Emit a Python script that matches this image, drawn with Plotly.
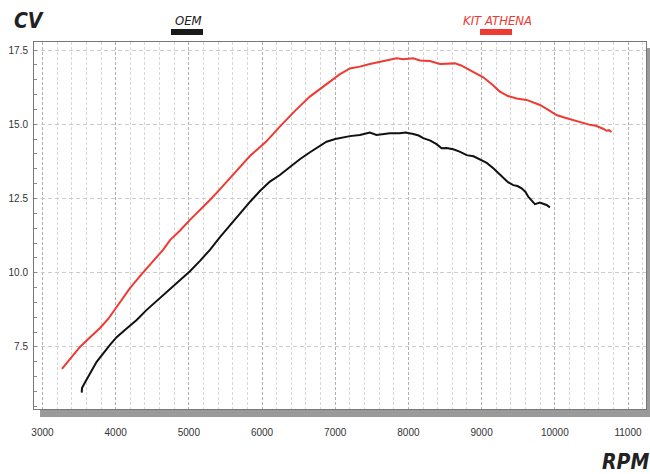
import plotly.graph_objects as go

# OEM (black)
oem_rpm = [3536, 3540, 3580, 3626, 3740, 3922, 4013, 4150, 4287, 4420, 4560, 4700, 4833, 5015, 5152, 5288,
           5425, 5560, 5698, 5840, 5971, 6107, 6243, 6380, 6516, 6650, 6770, 6881, 7000, 7100, 7200, 7336,
           7473, 7564, 7650, 7746, 7883, 7960, 8066, 8140, 8202, 8300, 8384, 8453, 8520, 8612, 8700, 8795,
           8890, 8977, 9070, 9160, 9230, 9296, 9360, 9432, 9490, 9546, 9600, 9637, 9690, 9728, 9796, 9850,
           9887, 9933]
oem_cv = [5.96, 6.12, 6.30, 6.50, 7.00, 7.57, 7.83, 8.12, 8.41, 8.74, 9.05, 9.36, 9.65, 10.05, 10.40, 10.77,
          11.20, 11.60, 12.00, 12.40, 12.75, 13.07, 13.29, 13.57, 13.82, 14.05, 14.25, 14.41, 14.50, 14.56, 14.60, 14.64,
          14.72, 14.64, 14.68, 14.70, 14.70, 14.72, 14.67, 14.62, 14.53, 14.45, 14.33, 14.19, 14.20, 14.16, 14.08, 13.96,
          13.92, 13.82, 13.70, 13.52, 13.35, 13.18, 13.05, 12.95, 12.92, 12.84, 12.72, 12.56, 12.40, 12.31, 12.36, 12.30,
          12.28, 12.20]

# KIT ATHENA (red)
kit_rpm = [3266, 3400, 3512, 3640, 3786, 3900, 4000, 4195, 4373, 4470, 4647, 4743, 4880, 5015, 5150, 5288,
           5420, 5561, 5700, 5834, 5926, 6050, 6243, 6450, 6653, 6800, 6926, 7060, 7200, 7336, 7473, 7610,
           7701, 7838, 7929, 8066, 8157, 8294, 8431, 8568, 8636, 8720, 8795, 8900, 9022, 9140, 9249, 9360,
           9478, 9615, 9700, 9796, 9900, 10024, 10140, 10251, 10370, 10480, 10560, 10616, 10660, 10707, 10740, 10776]
kit_cv = [6.76, 7.16, 7.50, 7.80, 8.14, 8.45, 8.80, 9.48, 10.00, 10.26, 10.77, 11.10, 11.42, 11.78, 12.10, 12.45,
          12.80, 13.18, 13.55, 13.93, 14.13, 14.40, 14.92, 15.45, 15.93, 16.20, 16.43, 16.68, 16.88, 16.94, 17.03, 17.11,
          17.16, 17.22, 17.19, 17.22, 17.15, 17.13, 17.03, 17.05, 17.05, 16.98, 16.88, 16.75, 16.58, 16.35, 16.10, 15.95,
          15.87, 15.82, 15.75, 15.65, 15.50, 15.31, 15.22, 15.14, 15.05, 14.98, 14.95, 14.90, 14.85, 14.78, 14.80, 14.74]

x_ticks = [3000, 4000, 5000, 6000, 7000, 8000, 9000, 10000, 11000]
y_ticks = [7.5, 10.0, 12.5, 15.0, 17.5]

W, H = 650, 474
L, R, T, B = 34, 4, 42, 65
pw, ph = W - L - R, H - T - B


def px(xp):
    return (xp - L) / pw


def py(yp):
    return (H - B - yp) / ph


fig = go.Figure()
fig.add_trace(go.Scatter(x=oem_rpm, y=oem_cv, mode="lines", name="OEM",
                         line=dict(color="#111111", width=2), showlegend=False))
fig.add_trace(go.Scatter(x=kit_rpm, y=kit_cv, mode="lines", name="KIT ATHENA",
                         line=dict(color="#ee3a33", width=2), showlegend=False))

axis_font = dict(family="Liberation Sans, Arial, sans-serif", size=10, color="#333333")
label_family = "DejaVu Sans Condensed, DejaVu Sans"

fig.update_layout(
    width=W, height=H,
    margin=dict(l=L, r=R, t=T, b=B, autoexpand=False),
    paper_bgcolor="white", plot_bgcolor="white",
    xaxis=dict(range=[2884, 11246], tickvals=x_ticks, ticktext=[str(v) for v in x_ticks],
               automargin=False,
               showgrid=True, gridcolor="#b0b0b0", griddash="3px,2px", gridwidth=1,
               minor=dict(dtick=200, tick0=3000, showgrid=True, gridcolor="#d8d8d8", griddash="3px,2px", gridwidth=1),
               showline=True, linecolor="#777777", linewidth=1, mirror=True,
               ticks="", zeroline=False, tickfont=axis_font, ticklabelstandoff=14),
    yaxis=dict(range=[5.41, 17.77], tickvals=y_ticks, ticktext=["%.1f" % v for v in y_ticks],
               automargin=False,
               showgrid=True, gridcolor="#cccccc", griddash="4px,3px", gridwidth=1,
               minor=dict(dtick=0.5, tick0=5.5, ticks="inside", ticklen=3, tickcolor="#888888", showgrid=False),
               showline=True, linecolor="#777777", linewidth=1, mirror=True,
               ticks="", zeroline=False, tickfont=axis_font, ticklabelstandoff=3),
    shapes=[
        # drop shadow of the plot frame
        dict(type="rect", xref="paper", yref="paper", x0=px(646.5), x1=px(652), y0=py(417), y1=py(48),
             fillcolor="#9a9a9a", line=dict(width=0), layer="below"),
        dict(type="rect", xref="paper", yref="paper", x0=px(40), x1=px(652), y0=py(417), y1=py(409.5),
             fillcolor="#9a9a9a", line=dict(width=0), layer="below"),
        # legend bars
        dict(type="rect", xref="paper", yref="paper", x0=px(171), x1=px(203), y0=py(35), y1=py(29),
             fillcolor="#1a1a1a", line=dict(width=0)),
        dict(type="rect", xref="paper", yref="paper", x0=px(480), x1=px(512), y0=py(35), y1=py(29),
             fillcolor="#ee3a33", line=dict(width=0)),
    ],
    annotations=[
        dict(text="<b><i>CV</i></b>", xref="paper", yref="paper", x=px(12), y=py(21),
             xanchor="left", yanchor="middle", showarrow=False,
             font=dict(family=label_family, size=21, color="#222222")),
        dict(text="<b><i>RPM</i></b>", xref="paper", yref="paper", x=px(651), y=py(462),
             xanchor="right", yanchor="middle", showarrow=False,
             font=dict(family=label_family, size=21, color="#222222")),
        dict(text="<i>OEM</i>", xref="paper", yref="paper", x=px(188), y=py(21),
             xanchor="center", yanchor="middle", showarrow=False,
             font=dict(family=label_family, size=13, color="#222222")),
        dict(text="<i>KIT ATHENA</i>", xref="paper", yref="paper", x=px(497), y=py(21),
             xanchor="center", yanchor="middle", showarrow=False,
             font=dict(family=label_family, size=13, color="#ee3a33")),
    ],
)

fig.write_html("out.html", config={"displayModeBar": False},
               post_script="document.body.style.margin='0';document.body.style.padding='0';")
